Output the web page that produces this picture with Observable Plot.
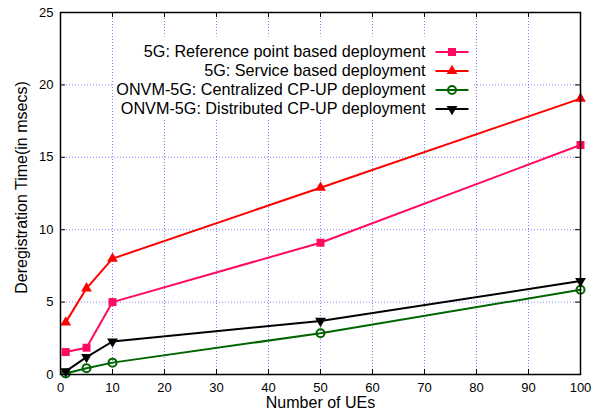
<!DOCTYPE html>
<html><head><meta charset="utf-8">
<script src="https://cdn.jsdelivr.net/npm/d3@7"></script>
<script src="https://cdn.jsdelivr.net/npm/@observablehq/plot@0.6"></script>
<style>html,body{margin:0;padding:0;background:#fff;}</style>
</head><body><div id="chart"></div>
<script>
// ---- data ----
const ues = [1, 5, 10, 50, 100];
const seriesNames = [
  "5G: Reference point based deployment",
  "5G: Service based deployment",
  "ONVM-5G: Centralized CP-UP deployment",
  "ONVM-5G: Distributed CP-UP deployment"
];
const refPoint     = [1.55, 1.85, 5.0, 9.1, 15.85];
const serviceBased = [3.6, 5.95, 8.0, 12.9, 19.05];
const centralized  = [0.07, 0.43, 0.82, 2.85, 5.85];
const distributed  = [0.22, 1.2, 2.28, 3.7, 6.45];
const xTicks = [0, 10, 20, 30, 40, 50, 60, 70, 80, 90, 100];
const yTicks = [0, 5, 10, 15, 20, 25];
const xTitle = "Number of UEs";
const yTitle = "Deregistration Time(in msecs)";

// ---- styles ----
const seriesValues = [refPoint, serviceBased, centralized, distributed];
const colors = ["#ff0a60", "#ff0000", "#006400", "#000000"];
const symbols = ["square", "triangle", "circle", "triangle"];
const rotations = [0, 0, 0, 180];
const radii = [4.5, 4, 4, 4];
const filled = [true, true, false, true];
const font = "'Liberation Sans', Arial, Helvetica, sans-serif";

const rows = seriesNames.flatMap((name, s) =>
  ues.map((u, j) => ({series: name, s, x: u, y: seriesValues[s][j]})));

const legendLine = {draw(ctx) { ctx.moveTo(-16.5, 0); ctx.lineTo(16.5, 0); }};
const gridStyle = {stroke: "#2020ff", strokeOpacity: 0.55, strokeDasharray: "1,2", strokeWidth: 1};

const marks = [
  Plot.gridX(xTicks.slice(1, -1), gridStyle),
  Plot.gridY(yTicks.slice(1, -1), gridStyle),
  Plot.frame({fill: "white", stroke: "none", insetLeft: 54, insetRight: 108, insetTop: 24, insetBottom: 256}),
];

seriesNames.forEach((name, s) => {
  const d = rows.filter(r => r.s === s);
  marks.push(Plot.line(d, {x: "x", y: "y", stroke: colors[s], strokeWidth: 2}));
  marks.push(Plot.dot(d, {
    x: "x", y: "y", symbol: symbols[s], r: radii[s], rotate: rotations[s],
    fill: filled[s] ? colors[s] : "none",
    stroke: filled[s] ? "none" : colors[s], strokeWidth: 2
  }));
  const dy = 39.5 + 19 * s;
  marks.push(Plot.text([name], {text: t => t, frameAnchor: "top-left", dx: 365, dy,
    textAnchor: "end", lineAnchor: "middle", fontSize: 16.2, fill: "black"}));
  marks.push(Plot.dot([name], {frameAnchor: "top-left", dx: 391.5, dy, symbol: legendLine,
    stroke: colors[s], strokeWidth: 2, fill: "none"}));
  marks.push(Plot.dot([name], {frameAnchor: "top-left", dx: 391.5, dy, symbol: symbols[s],
    r: radii[s], rotate: rotations[s],
    fill: filled[s] ? colors[s] : "none", stroke: filled[s] ? "none" : colors[s], strokeWidth: 2}));
});

marks.push(
  Plot.frame({stroke: "black", strokeWidth: 1.5}),
  Plot.ruleX(xTicks, {x: d => d, y1: 0, y2: 0, insetTop: -5, stroke: "black"}),
  Plot.ruleX(xTicks, {x: d => d, y1: 25, y2: 25, insetBottom: -5, stroke: "black"}),
  Plot.ruleY(yTicks, {y: d => d, x1: 0, x2: 0, insetRight: -5, stroke: "black"}),
  Plot.ruleY(yTicks, {y: d => d, x1: 100, x2: 100, insetLeft: -5, stroke: "black"}),
  Plot.axisX(xTicks, {tickSize: 0, tickPadding: 8, fontSize: 13, label: null}),
  Plot.axisY(yTicks, {tickSize: 0, tickPadding: 7, fontSize: 13, label: null}),
  Plot.text([xTitle], {text: t => t, frameAnchor: "bottom", dy: 28, fontSize: 16, textAnchor: "middle", lineAnchor: "middle", fill: "black"}),
  Plot.text([yTitle], {text: t => t, frameAnchor: "left", dx: -39, dy: -6, rotate: -90, fontSize: 16, textAnchor: "middle", lineAnchor: "middle", fill: "black"})
);

const chart = Plot.plot({
  width: 595, height: 412,
  marginLeft: 60, marginRight: 15, marginTop: 12, marginBottom: 38,
  style: {fontFamily: font, color: "black", background: "white", overflow: "visible"},
  x: {domain: [0, 100]},
  y: {domain: [0, 25]},
  marks
});
document.getElementById("chart").appendChild(chart);
</script>
</body></html>
